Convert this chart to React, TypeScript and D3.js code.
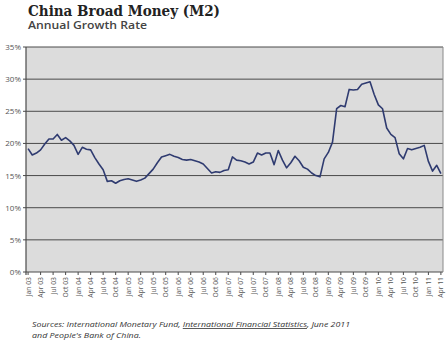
import React from "react";
import * as d3 from "d3";

const years = ["03", "04", "05", "06", "07", "08", "09", "10", "11"];
const monthNames = ["Jan", "Feb", "Mar", "Apr", "May", "Jun", "Jul", "Aug", "Sep", "Oct", "Nov", "Dec"];
const months: string[] = [];
years.forEach((y) => monthNames.forEach((m) => months.push(`${m} ${y}`)));
const categories = months.slice(0, months.indexOf("Apr 11") + 1);

const growth2003 = [19.2, 18.2, 18.5, 19.0, 19.9, 20.7, 20.7, 21.4, 20.5, 20.9, 20.4, 19.7];
const growth2004 = [18.3, 19.4, 19.1, 19.0, 17.8, 16.8, 15.9, 14.1, 14.2, 13.8, 14.2, 14.4];
const growth2005 = [14.5, 14.3, 14.1, 14.3, 14.6, 15.3, 16.0, 17.0, 17.9, 18.1, 18.3, 18.0];
const growth2006 = [17.8, 17.5, 17.4, 17.5, 17.3, 17.1, 16.8, 16.1, 15.4, 15.6, 15.5, 15.8];
const growth2007 = [15.9, 17.9, 17.4, 17.3, 17.1, 16.8, 17.1, 18.5, 18.2, 18.5, 18.5, 16.7];
const growth2008 = [18.9, 17.4, 16.2, 17.0, 18.0, 17.3, 16.3, 16.0, 15.4, 15.0, 14.8, 17.6];
const growth2009 = [18.6, 20.2, 25.4, 25.9, 25.7, 28.4, 28.3, 28.4, 29.2, 29.4, 29.6, 27.6];
const growth2010 = [26.0, 25.4, 22.4, 21.4, 20.9, 18.4, 17.6, 19.2, 19.0, 19.2, 19.4, 19.7];
const growth2011 = [17.2, 15.7, 16.6, 15.3];
const values = [
  ...growth2003, ...growth2004, ...growth2005, ...growth2006, ...growth2007,
  ...growth2008, ...growth2009, ...growth2010, ...growth2011,
];

const yTicks = [0, 5, 10, 15, 20, 25, 30, 35];
const xTickLabels = categories.filter((_, i) => i % 3 === 0);

const title = "China Broad Money (M2)";
const subtitle = "Annual Growth Rate";

export default function App() {
  const W = 448, H = 343;
  const left = 26, right = 443, top = 47, bottom = 272;

  const x = d3.scaleBand<string>().domain(categories).range([left, right]).padding(0);
  const cx = (c: string) => (x(c) as number) + x.bandwidth() / 2;
  const y = d3.scaleLinear().domain([0, 35]).range([bottom, top]);

  const line = d3
    .line<number>()
    .x((_, i) => cx(categories[i]))
    .y((d) => y(d));

  const gray = "#555";

  return (
    <svg width={W} height={H} style={{ position: "absolute", left: 0, top: 0, background: "#fff" }}>
      <rect x={0} y={0} width={W} height={H} fill="#fff" />
      <text x={28} y={16} fontFamily="DejaVu Serif" fontWeight="bold" fontSize={14.5} fill="#222" textLength={192} lengthAdjust="spacingAndGlyphs">
        {title}
      </text>
      <text x={28} y={28.5} fontFamily="Open Sans" fontWeight={600} fontSize={10.5} fill="#444" textLength={119} lengthAdjust="spacingAndGlyphs">
        {subtitle}
      </text>

      <rect x={left} y={top} width={right - left} height={bottom - top} fill="#dcdcdc" />
      {yTicks.map((t) => (
        <g key={t}>
          <line x1={left - 3} x2={right} y1={y(t)} y2={y(t)} stroke="#4a4a4a" strokeWidth={1} />
          <text x={21} y={y(t) + 3} textAnchor="end" fontFamily="Open Sans" fontSize={8} fill={gray}>
            {t}%
          </text>
        </g>
      ))}
      <line x1={left} x2={left} y1={top} y2={bottom + 3} stroke="#4a4a4a" strokeWidth={1.2} />
      <line x1={right} x2={right} y1={top} y2={bottom} stroke="#8a8a8a" strokeWidth={1} />

      {xTickLabels.map((c) => (
        <g key={c} transform={`translate(${cx(c)},${bottom})`}>
          <line y1={0} y2={3} stroke="#4a4a4a" strokeWidth={1} />
          <text transform="translate(2.5,5) rotate(-90)" textAnchor="end" fontFamily="Open Sans" fontSize={6.8} fill={gray}>
            {c}
          </text>
        </g>
      ))}

      <path d={line(values) as string} fill="none" stroke="#2f3b70" strokeWidth={1.6} strokeLinejoin="round" />

      <text x={32} y={327} fontFamily="Open Sans" fontStyle="italic" fontSize={8} fill="#333" textLength={318} lengthAdjust="spacingAndGlyphs">
        Sources: International Monetary Fund,{" "}
        <tspan textDecoration="underline" style={{ textDecoration: "underline" }}>International Financial Statistics</tspan>, June 2011
      </text>
      <text x={32} y={338} fontFamily="Open Sans" fontStyle="italic" fontSize={8} fill="#333" textLength={109} lengthAdjust="spacingAndGlyphs">
        and People's Bank of China.
      </text>
    </svg>
  );
}
